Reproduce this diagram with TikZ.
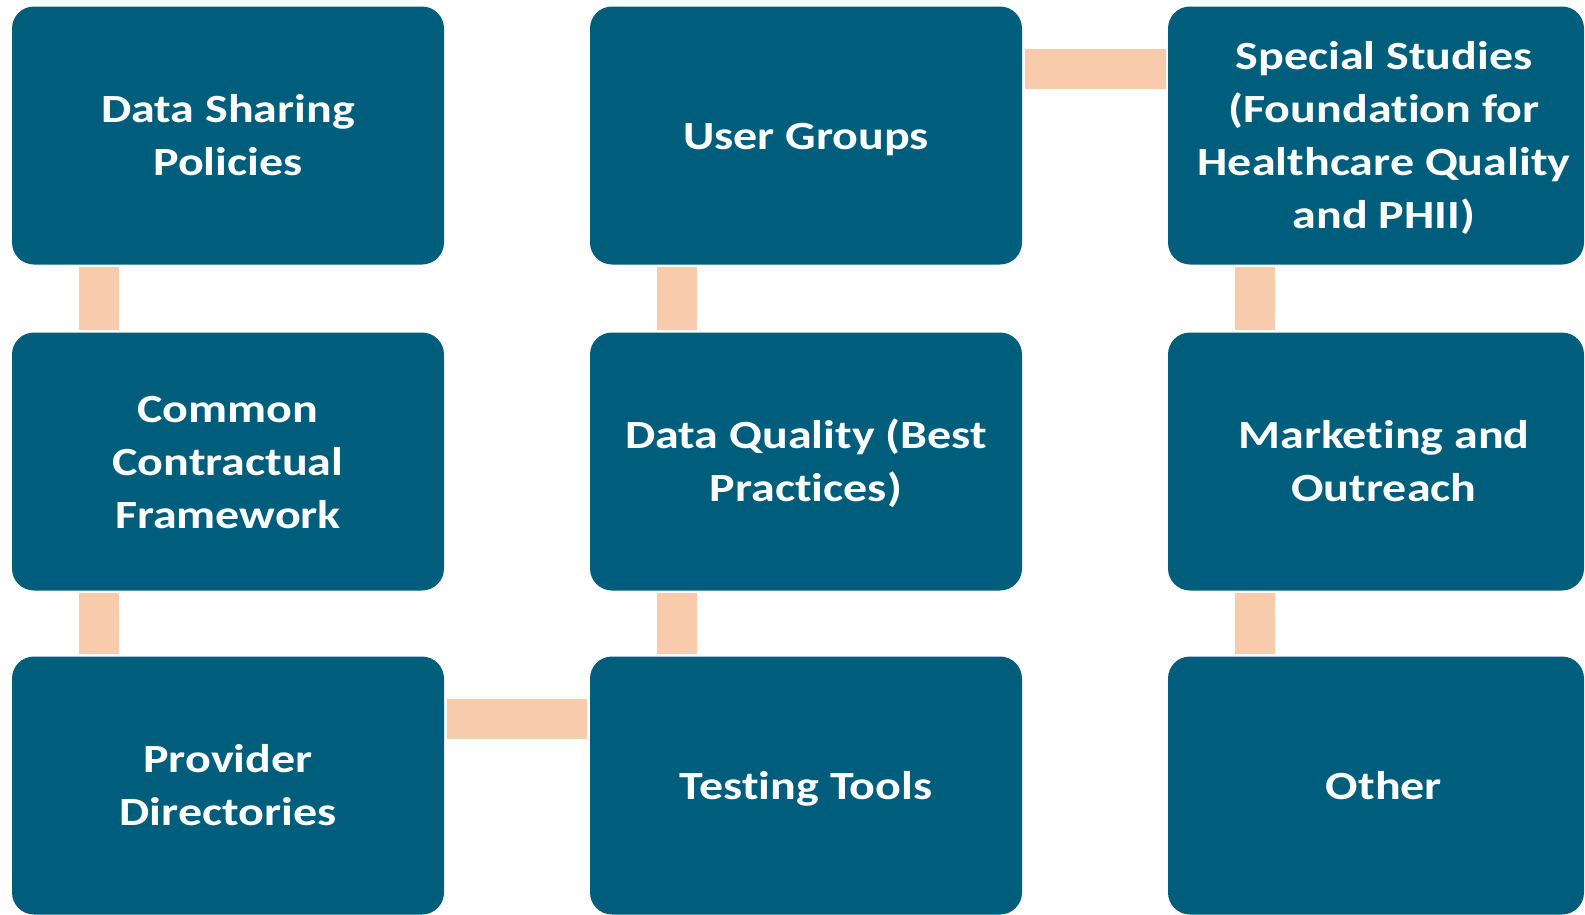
\documentclass[tikz,border=0pt]{standalone}
\usepackage{fontspec}
\setmainfont{Carlito}[FakeStretch=1.2, Ligatures={NoCommon}]
\definecolor{boxblue}{HTML}{005E7D}
\definecolor{peach}{HTML}{F8CBAD}
\newcommand\lns[1]{\raisebox{-3pt}[\height][\depth]{\begin{tabular}{@{}c@{}}#1\end{tabular}}}
\begin{document}
\begin{tikzpicture}[x=1pt,y=-1pt,
  box/.style={rectangle, rounded corners=22pt, fill=boxblue, draw=none, inner sep=0pt,
    minimum width=432pt, minimum height=258pt, text=white,
    font=\fontsize{40}{53}\selectfont\bfseries},
  conn/.style={draw=peach, line width=40pt}]
\useasboundingbox (0,0) rectangle (1585,914);
% column 1
\node[box] (a1) at (228,135.5) {\lns{Data Sharing\\Policies}};
\node[box] (a2) at (228,461.5) {\lns{Common\\Contractual\\Framework}};
\node[box] (a3) at (228,785.5) {\lns{Provider\\Directories}};
% column 2
\node[box] (b1) at (806,135.5) {\lns{User Groups}};
\node[box] (b2) at (806,461.5) {\lns{Data Quality (Best\\Practices)}};
\node[box] (b3) at (806,785.5) {\lns{Testing Tools}};
% column 3 (cut at the right)
\node[box, minimum width=416pt] (c1) at (1376,135.5) {\hspace*{16pt}\lns{Special Studies\\(Foundation for\\Healthcare Quality\\and PHII)}};
\node[box, minimum width=416pt] (c2) at (1376,461.5) {\hspace*{16pt}\lns{Marketing and\\Outreach}};
\node[box, minimum width=416pt] (c3) at (1376,785.5) {\hspace*{16pt}\lns{Other}};
% connectors
\draw[conn] ([shift={(87,2.5)}]a1.south west) -- ([shift={(87,-2.5)}]a2.north west);
\draw[conn] ([shift={(87,2.5)}]a2.south west) -- ([shift={(87,-2.5)}]a3.north west);
\draw[conn] ([shift={(3,63)}]a3.north east) -- ([shift={(-3,63)}]b3.north west);
\draw[conn] ([shift={(87,2.5)}]b2.south west) -- ([shift={(87,-2.5)}]b3.north west);
\draw[conn] ([shift={(87,2.5)}]b1.south west) -- ([shift={(87,-2.5)}]b2.north west);
\draw[conn] ([shift={(3,63)}]b1.north east) -- ([shift={(-2,63)}]c1.north west);
\draw[conn] ([shift={(87,2.5)}]c1.south west) -- ([shift={(87,-2.5)}]c2.north west);
\draw[conn] ([shift={(87,2.5)}]c2.south west) -- ([shift={(87,-2.5)}]c3.north west);
\end{tikzpicture}
\end{document}
